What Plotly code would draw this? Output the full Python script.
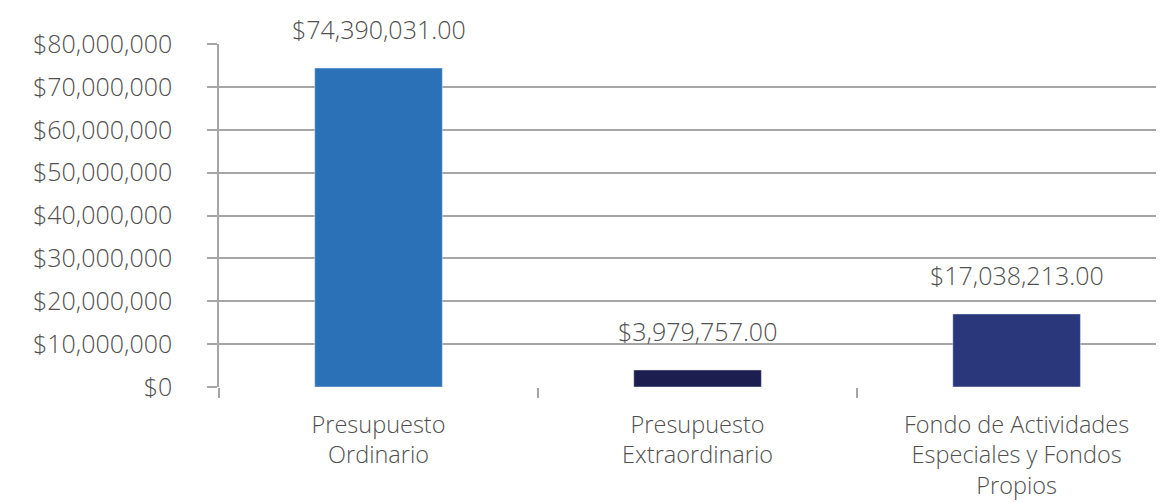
import plotly.graph_objects as go

categories = ["Presupuesto<br>Ordinario", "Presupuesto<br>Extraordinario",
              "Fondo de Actividades<br>Especiales y Fondos<br>Propios"]
values = [74390031.00, 3979757.00, 17038213.00]
colors = ["#2a71b8", "#1d1e50", "#2b377b"]
ytick_vals = [0, 10e6, 20e6, 30e6, 40e6, 50e6, 60e6, 70e6, 80e6]
ytick_text = ["$0", "$10,000,000", "$20,000,000", "$30,000,000", "$40,000,000",
              "$50,000,000", "$60,000,000", "$70,000,000", "$80,000,000"]

labels = ["${:,.2f}".format(v) for v in values]

font = "Open Sans"
txt_color = "#505050"
grid = "#a6a6a6"

fig = go.Figure(go.Bar(
    x=categories, y=values, marker_color=colors, width=0.4,
    hoverinfo="x+y",
))

for c, v, t in zip(categories, values, labels):
    fig.add_annotation(
        x=c, y=v, text=t, showarrow=False, yanchor="middle", yshift=39,
        font=dict(size=25, color=txt_color, family=font, weight=300),
    )

fig.update_layout(
    width=1164, height=503,
    margin=dict(l=211, r=0, t=36, b=124, autoexpand=False),
    plot_bgcolor="white", paper_bgcolor="white",
    font=dict(family=font, color=txt_color, size=25, weight=300),
    showlegend=False,
)
fig.update_xaxes(
    range=[-0.5, 2.487], tickson="boundaries", ticks="outside", ticklen=10,
    tickcolor=grid, tickwidth=1.5, showline=False, showgrid=False,
    automargin=False, ticklabelstandoff=21,
    tickfont=dict(size=23.5, color=txt_color, family=font, weight=300),
)
fig.update_yaxes(
    range=[0, 80e6], tickvals=ytick_vals, ticktext=ytick_text,
    showgrid=True, gridcolor=grid, gridwidth=1.5,
    ticks="outside", ticklen=10, tickcolor=grid, tickwidth=1.5,
    showline=True, linecolor=grid, linewidth=1.5,
    zeroline=False, ticklabelstandoff=30, automargin=False,
    tickfont=dict(size=25, color=txt_color, family=font, weight=300),
)
fig.write_html("out.html")
